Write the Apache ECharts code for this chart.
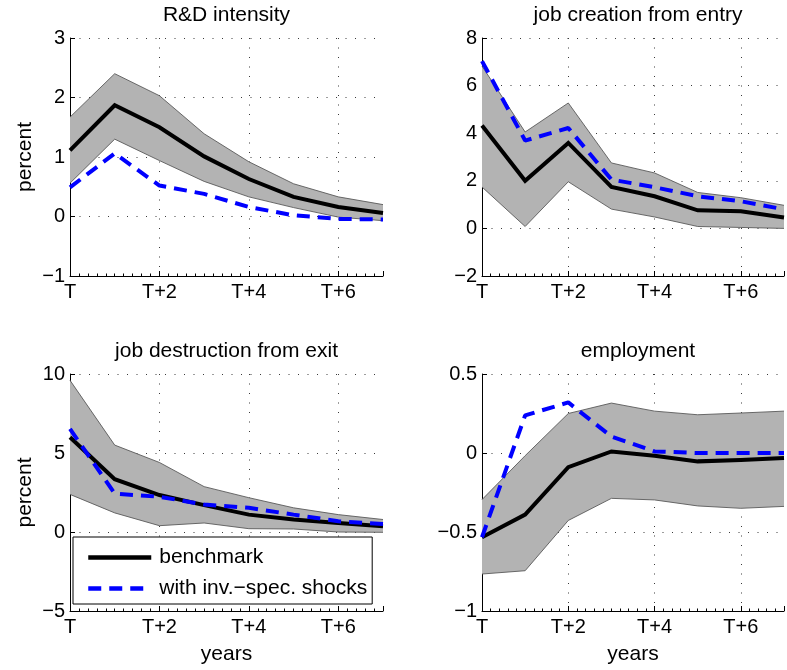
<!DOCTYPE html>
<html>
<head>
<meta charset="utf-8">
<script src="https://cdn.jsdelivr.net/npm/echarts@6/dist/echarts.min.js"></script>
<style>
html,body{margin:0;padding:0;background:#fff;}
#chart{width:787px;height:670px;}
</style>
</head>
<body>
<div id="chart"></div>
<script>
// ---- data ----
var years = [0, 1, 2, 3, 4, 5, 6, 7];
var xTickLabels = ['T', 'T+2', 'T+4', 'T+6'];

var titles = ['R&D intensity', 'job creation from entry', 'job destruction from exit', 'employment'];
var legendNames = ['benchmark', 'with inv.\u2212spec. shocks'];

var rdBench = [1.11, 1.87, 1.50, 1.01, 0.63, 0.33, 0.16, 0.06];
var rdUpper = [1.67, 2.40, 2.03, 1.39, 0.92, 0.55, 0.33, 0.20];
var rdLower = [0.56, 1.30, 0.94, 0.59, 0.33, 0.15, -0.01, -0.07];
var rdShock = [0.49, 1.06, 0.52, 0.38, 0.16, 0.02, -0.04, -0.05];

var jcBench = [4.32, 2.00, 3.59, 1.74, 1.35, 0.76, 0.72, 0.46];
var jcUpper = [6.82, 4.05, 5.27, 2.75, 2.33, 1.51, 1.29, 0.97];
var jcLower = [1.74, 0.08, 1.96, 0.81, 0.48, 0.08, 0.04, 0.00];
var jcShock = [7.03, 3.69, 4.22, 2.05, 1.73, 1.35, 1.14, 0.80];

var jdBench = [6.00, 3.34, 2.34, 1.70, 1.10, 0.79, 0.57, 0.36];
var jdUpper = [9.60, 5.50, 4.40, 2.87, 2.17, 1.53, 1.10, 0.79];
var jdLower = [2.38, 1.21, 0.40, 0.57, 0.21, 0.19, 0.00, -0.02];
var jdShock = [6.53, 2.43, 2.23, 1.74, 1.53, 1.10, 0.68, 0.51];

var emBench = [-0.533, -0.39, -0.09, 0.01, -0.017, -0.053, -0.045, -0.032];
var emUpper = [-0.295, -0.017, 0.25, 0.316, 0.265, 0.242, 0.253, 0.265];
var emLower = [-0.766, -0.745, -0.427, -0.287, -0.297, -0.335, -0.35, -0.338];
var emShock = [-0.533, 0.238, 0.32, 0.104, 0.01, 0.0, 0.0, 0.0];

var yMin = [-1, -2, -5, -1];
var yMax = [3, 8, 10, 0.5];
var yStep = [1, 2, 5, 0.5];

// ---- chart ----
var panels = [
  {bench: rdBench, upper: rdUpper, lower: rdLower, shock: rdShock},
  {bench: jcBench, upper: jcUpper, lower: jcLower, shock: jcShock},
  {bench: jdBench, upper: jdUpper, lower: jdLower, shock: jdShock},
  {bench: emBench, upper: emUpper, lower: emLower, shock: emShock}
];

var FONT = '"Liberation Sans", Arial, Helvetica, sans-serif';
var grids = [
  {left: 70, top: 38, width: 313, height: 238},
  {left: 482, top: 38, width: 312, height: 238},
  {left: 70, top: 374, width: 313, height: 237},
  {left: 482, top: 374, width: 312, height: 237}
];

function pairs(vals) { return years.map(function (x, i) { return [x, vals[i]]; }); }
function minus(v) { return String(v).replace('-', '\u2212'); }

var xAxes = [], yAxes = [], series = [], graphics = [];
var dotted = {color: '#3a3a3a', width: 1, type: [1, 8.5]};

panels.forEach(function (p, i) {
  var g = grids[i];
  xAxes.push({
    type: 'value', gridIndex: i, min: 0, max: 7, interval: 2, position: 'bottom',
    axisLine: {onZero: false, lineStyle: {color: '#000', width: 1}},
    axisTick: {inside: true, length: 5, lineStyle: {color: '#000'}},
    axisLabel: {
      fontFamily: FONT, fontSize: 20, color: '#000', margin: 6,
      formatter: function (v) { return (v % 2 === 0 && v / 2 < xTickLabels.length) ? xTickLabels[v / 2] : ''; }
    },
    splitLine: {show: true, showMinLine: false, showMaxLine: false, lineStyle: dotted},
    name: i >= 2 ? 'years' : '', nameLocation: 'middle', nameGap: 33,
    nameTextStyle: {fontFamily: FONT, fontSize: 21, color: '#000'}
  });
  // minor ticks axis
  xAxes.push({
    type: 'value', gridIndex: i, min: 0, max: 7, interval: 0.2, position: 'bottom',
    axisLine: {show: false, onZero: false},
    axisTick: {inside: true, length: 2.5, lineStyle: {color: '#000'}},
    axisLabel: {show: false}, splitLine: {show: false}
  });
  yAxes.push({
    type: 'value', gridIndex: i, min: yMin[i], max: yMax[i], interval: yStep[i],
    axisLine: {show: true, onZero: false, lineStyle: {color: '#000', width: 1}},
    axisTick: {show: true, inside: true, length: 5, lineStyle: {color: '#000'}},
    axisLabel: {fontFamily: FONT, fontSize: 20, color: '#000', margin: 5, formatter: minus},
    splitLine: {show: true, showMinLine: false, showMaxLine: true, lineStyle: dotted},
    name: (i % 2 === 0) ? 'percent' : '', nameLocation: 'middle', nameGap: 34,
    nameTextStyle: {fontFamily: FONT, fontSize: 21, color: '#000'}
  });
  var xi = i * 2;
  var bandData = years.map(function (x, k) { return [x, p.lower[k], p.upper[k]]; });
  series.push({
    type: 'custom', xAxisIndex: xi, yAxisIndex: i, data: bandData, silent: true, z: 1,
    name: 'band' + i,
    encode: {x: 0, y: [1, 2]},
    renderItem: function (params, api) {
      if (params.dataIndex !== 0) return null;
      var top = [], bot = [];
      for (var k = 0; k < bandData.length; k++) {
        top.push(api.coord([bandData[k][0], bandData[k][2]]));
        bot.unshift(api.coord([bandData[k][0], bandData[k][1]]));
      }
      return {
        type: 'polygon',
        shape: {points: top.concat(bot)},
        style: {fill: '#b3b3b3', stroke: null}
      };
    },
    clip: true
  });
  series.push({
    type: 'line', xAxisIndex: xi, yAxisIndex: i, data: pairs(p.upper), symbol: 'none',
    lineStyle: {color: '#5a5a5a', width: 0.9}, silent: true, z: 2, name: 'up' + i
  });
  series.push({
    type: 'line', xAxisIndex: xi, yAxisIndex: i, data: pairs(p.lower), symbol: 'none',
    lineStyle: {color: '#5a5a5a', width: 0.9}, silent: true, z: 2, name: 'lw' + i
  });
  series.push({
    type: 'line', xAxisIndex: xi, yAxisIndex: i, data: pairs(p.bench), symbol: 'none',
    name: legendNames[0], color: '#000',
    lineStyle: {color: '#000', width: 4, cap: 'butt', join: 'miter'}, z: 3
  });
  series.push({
    type: 'line', xAxisIndex: xi, yAxisIndex: i, data: pairs(p.shock), symbol: 'none',
    name: legendNames[1], color: '#0000ff',
    lineStyle: {color: '#0000ff', width: 4, type: [13, 8], cap: 'butt'}, z: 4
  });
  graphics.push({
    type: 'text', x: g.left + g.width / 2, y: g.top - 23,
    style: {text: titles[i], font: '21px ' + FONT, fill: '#000', align: 'center', verticalAlign: 'middle'}
  });
});

var chart = echarts.init(document.getElementById('chart'), null, {renderer: 'canvas'});
chart.setOption({
  animation: false,
  backgroundColor: '#fff',
  grid: grids,
  xAxis: xAxes,
  yAxis: yAxes,
  series: series,
  graphic: graphics,
  legend: {
    data: legendNames, orient: 'vertical', left: 73, top: 537,
    backgroundColor: '#fff', borderColor: '#000', borderWidth: 1, borderRadius: 0,
    padding: [10, 5, 5, 13], itemGap: 10, itemWidth: 63, itemHeight: 2,
    itemStyle: {opacity: 0},
    lineStyle: {width: 4.5},
    textStyle: {fontFamily: FONT, fontSize: 21, color: '#000', padding: [0, 0, 0, 3]},
    selectedMode: false
  }
});
</script>
</body>
</html>
